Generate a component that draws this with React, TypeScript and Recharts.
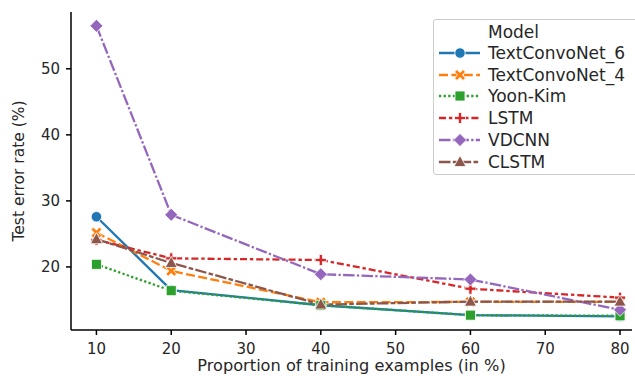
import React from "react";
import { LineChart, Line, XAxis, YAxis, Legend } from "recharts";

const proportions = [10, 20, 40, 60, 80];
const textConvoNet6 = [27.6, 16.5, 14.2, 12.7, 12.5];
const textConvoNet4 = [25.2, 19.4, 14.65, 14.7, 14.7];
const yoonKim = [20.4, 16.4, 14.2, 12.7, 12.6];
const lstm = [24.1, 21.3, 21.05, 16.7, 15.35];
const vdcnn = [56.5, 27.9, 18.9, 18.1, 13.5];
const clstm = [24.2, 20.6, 14.3, 14.75, 14.75];
const xTicks = [10, 20, 30, 40, 50, 60, 70, 80];
const yTicks = [20, 30, 40, 50];

type Shape = "circle" | "x" | "square" | "plus" | "diamond" | "triangle";

const series: { key: string; name: string; color: string; dash?: string; shape: Shape }[] = [
  { key: "tc6", name: "TextConvoNet_6", color: "#1f77b4", shape: "circle" },
  { key: "tc4", name: "TextConvoNet_4", color: "#ff7f0e", dash: "9 3.4", shape: "x" },
  { key: "yk", name: "Yoon-Kim", color: "#2ca02c", dash: "2.3 2.3", shape: "square" },
  { key: "lstm", name: "LSTM", color: "#d62728", dash: "7 2.9 3.4 2.9", shape: "plus" },
  { key: "vdcnn", name: "VDCNN", color: "#9467bd", dash: "11.5 2.3 2.3 2.3", shape: "diamond" },
  { key: "clstm", name: "CLSTM", color: "#8c564b", dash: "11.5 2.3 4.6 2.3", shape: "triangle" },
];

const values: Record<string, number[]> = {
  tc6: textConvoNet6,
  tc4: textConvoNet4,
  yk: yoonKim,
  lstm: lstm,
  vdcnn: vdcnn,
  clstm: clstm,
};

const data = proportions.map((p, i) => {
  const row: Record<string, number> = { p };
  series.forEach((s) => (row[s.key] = values[s.key][i]));
  return row;
});

const FONT = "'DejaVu Sans', sans-serif";
const TEXT = "#262626";

function Marker({ cx, cy, shape, color }: { cx: number; cy: number; shape: Shape; color: string }) {
  const common = { fill: color, stroke: "#fff", strokeWidth: 0.8 };
  switch (shape) {
    case "circle":
      return <circle cx={cx} cy={cy} r={5.2} {...common} />;
    case "square":
      return <rect x={cx - 5} y={cy - 5} width={10} height={10} {...common} />;
    case "diamond":
      return (
        <polygon
          points={`${cx},${cy - 6.5} ${cx + 6.5},${cy} ${cx},${cy + 6.5} ${cx - 6.5},${cy}`}
          {...common}
        />
      );
    case "triangle":
      return (
        <polygon
          points={`${cx},${cy - 6.5} ${cx + 6},${cy + 4.5} ${cx - 6},${cy + 4.5}`}
          {...common}
        />
      );
    case "plus": {
      const a = 5.5, b = 1.6;
      return (
        <polygon
          points={`${cx - b},${cy - a} ${cx + b},${cy - a} ${cx + b},${cy - b} ${cx + a},${cy - b} ${cx + a},${cy + b} ${cx + b},${cy + b} ${cx + b},${cy + a} ${cx - b},${cy + a} ${cx - b},${cy + b} ${cx - a},${cy + b} ${cx - a},${cy - b} ${cx - b},${cy - b}`}
          {...common}
        />
      );
    }
    case "x": {
      const a = 5, b = 1.7;
      return (
        <g transform={`translate(${cx},${cy}) rotate(45)`}>
          <polygon
            points={`${-b},${-a - 1} ${b},${-a - 1} ${b},${-b} ${a + 1},${-b} ${a + 1},${b} ${b},${b} ${b},${a + 1} ${-b},${a + 1} ${-b},${b} ${-a - 1},${b} ${-a - 1},${-b} ${-b},${-b}`}
            {...common}
          />
        </g>
      );
    }
  }
  return null;
}

const LegendBox = () => (
  <div
    style={{
      width: 212,
      height: 156,
      boxSizing: "border-box",
      border: "1px solid #cccccc",
      borderRadius: 3,
      background: "rgba(255,255,255,0.85)",
      fontFamily: FONT,
      fontSize: 17,
      color: TEXT,
      position: "relative",
    }}
  >
    <div style={{ position: "absolute", left: 54, top: 12, transform: "translateY(-50%)", whiteSpace: "nowrap" }}>
      Model
    </div>
    {series.map((s, i) => {
      const y = 33 + i * 21.7;
      return (
        <div key={s.key}>
          <svg
            width={44}
            height={16}
            style={{ position: "absolute", left: 4, top: y - 8 }}
          >
            <line x1={1} y1={8} x2={42} y2={8} stroke={s.color} strokeWidth={2.4} strokeDasharray={s.dash} />
            <Marker cx={22} cy={8} shape={s.shape} color={s.color} />
          </svg>
          <div
            style={{
              position: "absolute",
              left: 54,
              top: y,
              transform: "translateY(-50%)",
              whiteSpace: "nowrap",
            }}
          >
            {s.name}
          </div>
        </div>
      );
    })}
  </div>
);

export default function App() {
  return (
    <div style={{ position: "absolute", left: 0, top: 0, width: 635, height: 376, overflow: "hidden", background: "#fff" }}>
      <LineChart width={635} height={376} data={data} margin={{ top: 12, right: 3, left: 0, bottom: 0 }}>
        <XAxis
          dataKey="p"
          type="number"
          domain={[6.6, 81.6]}
          ticks={xTicks}
          allowDataOverflow
          stroke="#000"
          strokeWidth={1.5}
          tickSize={5}
          tickMargin={8}
          height={46}
          tick={{ fill: TEXT, fontSize: 15, fontFamily: FONT }}
          label={{
            value: "Proportion of training examples (in %)",
            position: "insideBottom",
            offset: 5,
            fill: TEXT,
            fontSize: 16.2,
            fontFamily: FONT,
          }}
        />
        <XAxis xAxisId="top" dataKey="p" type="number" orientation="top" domain={[6.6, 81.6]} height={0} tick={false} tickLine={false} stroke="#000" strokeWidth={1.5} />
        <YAxis
          type="number"
          domain={[10.45, 58.6]}
          ticks={yTicks}
          allowDataOverflow
          stroke="#000"
          strokeWidth={1.5}
          tickSize={5}
          tickMargin={6}
          width={71}
          tick={{ fill: TEXT, fontSize: 15, fontFamily: FONT }}
          label={{
            value: "Test error rate (%)",
            angle: -90,
            position: "insideLeft",
            offset: 18,
            style: { textAnchor: "middle" },
            fill: TEXT,
            fontSize: 15.5,
            fontFamily: FONT,
          }}
        />
        <YAxis yAxisId="right" orientation="right" width={0} tick={false} tickLine={false} stroke="#000" strokeWidth={1.5} />
        <Legend
          layout="horizontal"
          verticalAlign="middle"
          content={() => <LegendBox />}
          wrapperStyle={{ position: "absolute", left: 433, top: 19, width: 212, height: 156 }}
        />
        {series.map((s) => (
          <Line
            key={s.key}
            dataKey={s.key}
            name={s.name}
            type="linear"
            stroke={s.color}
            strokeWidth={2.3}
            strokeDasharray={s.dash}
            isAnimationActive={false}
            activeDot={false}
            dot={(p: any) => <Marker key={`${s.key}-${p.index}`} cx={p.cx} cy={p.cy} shape={s.shape} color={s.color} />}
          />
        ))}
      </LineChart>
    </div>
  );
}
